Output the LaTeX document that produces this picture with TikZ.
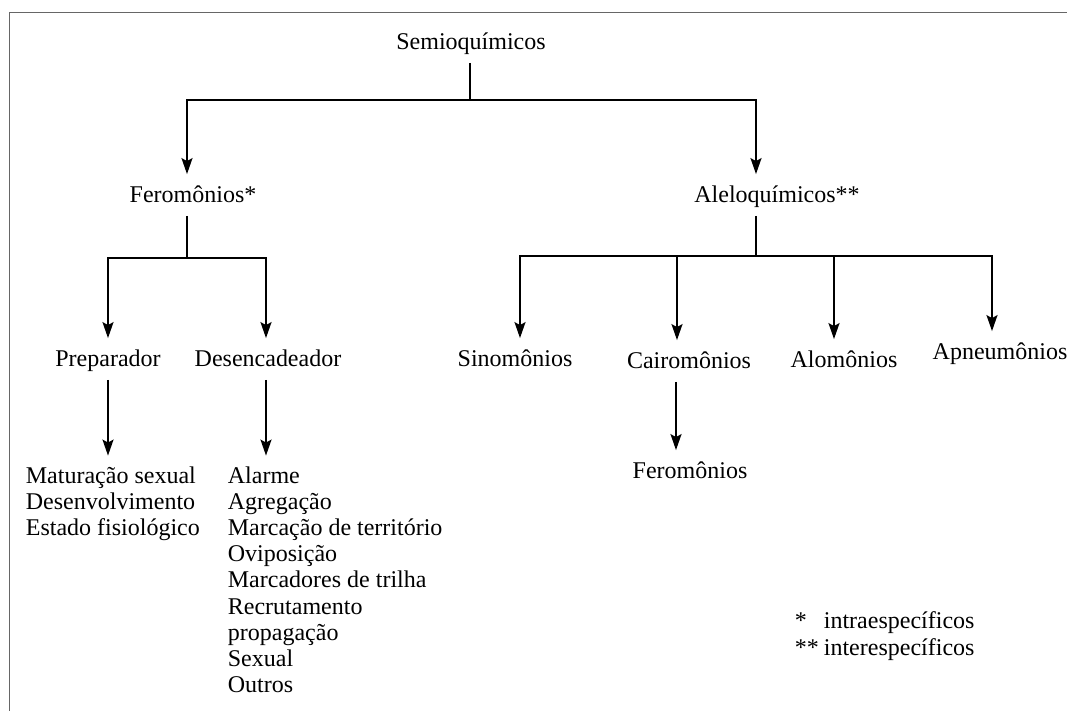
\documentclass[tikz,border=0pt]{standalone}
\usepackage{fontspec}
\setmainfont{Liberation Serif}
\usetikzlibrary{arrows.meta}

\tikzset{
  lbl/.style={font=\fontsize{12}{13.1}\selectfont, inner xsep=0pt, inner ysep=5pt,
    text height=9pt, text depth=1pt, anchor=base},
  lista/.style={font=\fontsize{12}{13.1}\selectfont, align=left, inner sep=5pt, anchor=north west},
  arr/.style={-{Stealth[length=8pt,width=5.5pt,inset=1.5pt]}},
  frame/.style={draw=black!60, line width=0.5pt}
}

\begin{document}
\begin{tikzpicture}[x=0.5pt, y=-0.5pt, line width=0.9pt]
        \useasboundingbox (0,0) rectangle (1067,711);
        \draw[frame] (1067,13) -- (9,13) -- (9,711);

        \node[lbl] (semio) at (471,50) {Semioquímicos};
        \node[lbl] (fero) at (193,203) {Feromônios*};
        \node[lbl] (alelo) at (777,203) {Aleloquímicos**};
        \node[lbl] (prep) at (108,367) {Preparador};
        \node[lbl] (desenc) at (268,367) {Desencadeador};
        \node[lbl] (sino) at (515,367) {Sinomônios};
        \node[lbl] (cairo) at (689,369) {Cairomônios};
        \node[lbl] (alom) at (844,368) {Alomônios};
        \node[lbl] (apneu) at (1000,360) {Apneumônios};
        \node[lbl] (fero2) at (690,479) {Feromônios};

        \node[lista] (matur) at (15,455.6) {Maturação sexual\\Desenvolvimento\\Estado fisiológico};
        \node[lista] (alarme) at (217,455.6) {Alarme\\Agregação\\Marcação de território\\Oviposição\\Marcadores de trilha\\Recrutamento\\propagação\\Sexual\\Outros};
        \node[lista, font=\fontsize{12}{13.5}\selectfont] (legenda) at (784,600.6)
            {\makebox[14.5pt][l]{*}intraespecíficos\\\makebox[14.5pt][l]{**}interespecíficos};

        \draw (470,0 |- semio.south) -- (470,100) coordinate (semioBar);
        \draw[arr] (semioBar) -| (187,0 |- fero.north);
        \draw[arr] (semioBar) -| (756,0 |- alelo.north);

        \draw (187,0 |- fero.south) -- (187,258) coordinate (feroBar);
        \foreach \n/\x in {prep/108, desenc/266}
            \draw[arr] (feroBar) -| (\x,0 |- \n.north);

        \draw (756,0 |- alelo.south) -- (756,256) coordinate (aleloBar);
        \foreach \n/\x in {sino/520, cairo/677, alom/834, apneu/992}
            \draw[arr] (aleloBar) -| (\x,0 |- \n.north);

        \draw[arr] (108,0 |- prep.south) -- (108,0 |- matur.north);
        \draw[arr] (266,0 |- desenc.south) -- (266,0 |- alarme.north);
        \draw[arr] (676,0 |- cairo.south) -- (676,0 |- fero2.north);
    \end{tikzpicture}
\end{document}
